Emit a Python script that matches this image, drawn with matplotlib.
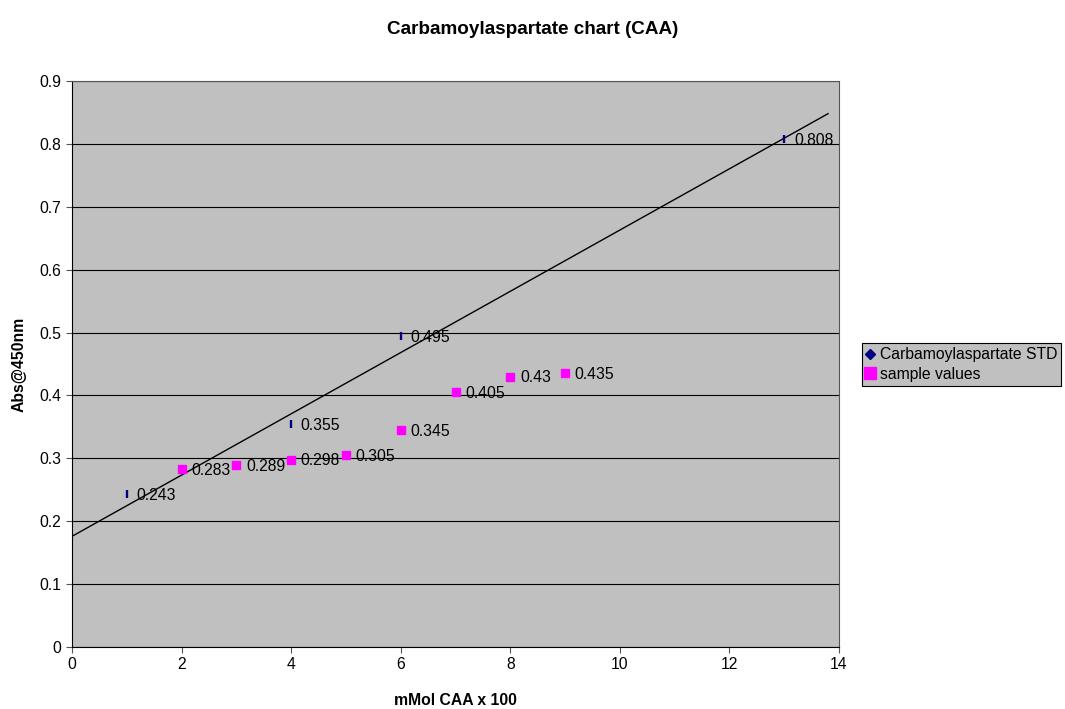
import matplotlib
matplotlib.use("Agg")
import matplotlib.pyplot as plt
from matplotlib.lines import Line2D
import numpy as np

plt.rcParams['font.family'] = ['Liberation Sans', 'DejaVu Sans']

# standard curve
std_x = [1, 4, 6, 13]
std_y = [0.243, 0.355, 0.495, 0.808]

# samples
sample_x = [2, 3, 4, 5, 6, 7, 8, 9]
sample_y = [0.283, 0.289, 0.298, 0.305, 0.345, 0.405, 0.43, 0.435]

# linear trendline, ends
trend_x = [0, 13.8]
trend_y = [0.176, 0.848]

fig = plt.figure(figsize=(10.65, 7.09), dpi=100)
ax = fig.add_axes([0.0676, 0.0874, 0.7202, 0.7984])
ax.set_facecolor('#C0C0C0')

ax.plot(trend_x, trend_y, color='black', lw=1, zorder=3)

ax.plot(std_x, std_y, linestyle='none', marker='|', markersize=6, mew=1.7,
        color='#000080', zorder=4)
ax.plot(sample_x, sample_y, linestyle='none', marker='s', markersize=6.3,
        color='#FF00FF', zorder=4)

for x, y in zip(std_x, std_y):
    ax.annotate(f'{y:g}', (x, y), xytext=(7, -1), textcoords='offset points',
                va='center', ha='left', fontsize=11.3, zorder=5)
for x, y in zip(sample_x, sample_y):
    ax.annotate(f'{y:g}', (x, y), xytext=(7, -1), textcoords='offset points',
                va='center', ha='left', fontsize=11.3, zorder=5)

ax.set_xlim(0, 14)
ax.set_ylim(0, 0.9)
ax.set_xticks(np.arange(0, 15, 2))
yt = np.round(np.arange(0, 0.91, 0.1), 1)
ax.set_yticks(yt)
ax.set_yticklabels([f'{v:g}' for v in yt])
ax.yaxis.grid(True, color='black', lw=0.8)
ax.set_axisbelow(True)
ax.tick_params(labelsize=11.3, length=4, width=0.8, color='#555555')
for s in ax.spines.values():
    s.set_color('#555555')
    s.set_linewidth(0.8)
ax.spines['left'].set_color('black')
ax.spines['bottom'].set_color('black')

ax.set_xlabel('mMol CAA x 100', fontsize=11.3, fontweight='bold', labelpad=15)
ax.set_ylabel('Abs@450nm', fontsize=11.3, fontweight='bold', labelpad=9)
fig.suptitle('Carbamoylaspartate chart (CAA)', fontsize=13.6, fontweight='bold',
             x=0.5, y=0.97)

handles = [
    Line2D([], [], linestyle='none', marker='D', markersize=5,
           color='#000080', label='Carbamoylaspartate STD'),
    Line2D([], [], linestyle='none', marker='s', markersize=8,
           color='#FF00FF', label='sample values'),
]
leg = fig.legend(handles=handles, loc='upper left',
                 bbox_to_anchor=(0.809, 0.516), frameon=True, fancybox=False,
                 fontsize=11.3, handlelength=0.6, handletextpad=0.3,
                 borderpad=0.25, labelspacing=0.3, borderaxespad=0)
leg.get_frame().set_facecolor('#C0C0C0')
leg.get_frame().set_edgecolor('black')
leg.get_frame().set_linewidth(0.8)
leg.get_frame().set_alpha(1)

fig.savefig('out.png', dpi=100)
